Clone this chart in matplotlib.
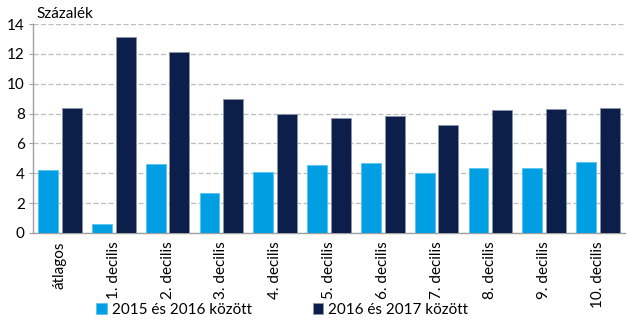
import numpy as np
import matplotlib.pyplot as plt

plt.rcParams['font.family'] = ['Lato', 'DejaVu Sans']

categories = ['átlagos', '1. decilis', '2. decilis', '3. decilis', '4. decilis',
              '5. decilis', '6. decilis', '7. decilis', '8. decilis', '9. decilis',
              '10. decilis']
v_2015_2016 = [4.2, 0.6, 4.6, 2.7, 4.1, 4.55, 4.7, 4.0, 4.35, 4.35, 4.75]
v_2016_2017 = [8.4, 13.15, 12.1, 8.95, 8.0, 7.7, 7.85, 7.2, 8.25, 8.3, 8.35]
labels = ['2015 és 2016 között', '2016 és 2017 között']

light = '#009FE3'
dark = '#0C1F4A'

fig = plt.figure(figsize=(6.35, 3.29), dpi=100)
ax = fig.add_axes([0.052, 0.292, 0.932, 0.635])

x = np.arange(len(categories))
w = 0.37
ax.bar(x - 0.22, v_2015_2016, w, color=light, edgecolor='#5BC3F0', linewidth=0.6,
       label=labels[0], zorder=3)
ax.bar(x + 0.22, v_2016_2017, w, color=dark, edgecolor='#8A93A8', linewidth=0.6,
       label=labels[1], zorder=3)

ax.set_xlim(-0.5, len(categories) - 0.5)
ax.set_ylim(0, 14)
ax.set_yticks(range(0, 15, 2))
ax.set_xticks(x)
ax.set_xticklabels(categories, rotation=90, fontsize=11)
ax.tick_params(axis='y', labelsize=11, length=3, color='#A0A0A0', pad=3)
ax.tick_params(axis='x', length=0, pad=6)
ax.yaxis.grid(True, linestyle=(0, (4, 2)), color='#BDBDBD', linewidth=0.9, zorder=0)
for s in ['top', 'right']:
    ax.spines[s].set_visible(False)
for s in ['left', 'bottom']:
    ax.spines[s].set_color('#A0A0A0')
    ax.spines[s].set_linewidth(1.0)

fig.text(0.058, 0.958, 'Százalék', fontsize=11, ha='left', va='center')

fig.legend(loc='lower left', bbox_to_anchor=(0.13, -0.005), ncol=2, frameon=False,
           fontsize=11, handlelength=0.7, handleheight=0.7, handletextpad=0.3,
           columnspacing=4.0)

fig.savefig('out.png', dpi=100)
